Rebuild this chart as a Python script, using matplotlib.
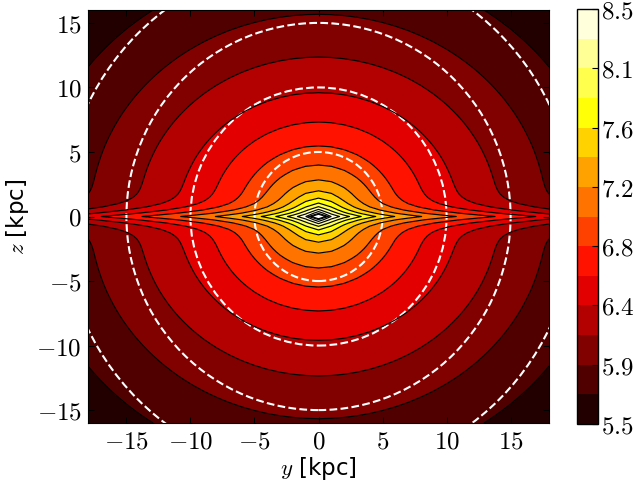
import matplotlib

matplotlib.use("Agg")
import matplotlib.pyplot as plt
import numpy as np
from matplotlib.patches import Circle
from matplotlib.ticker import FuncFormatter

plt.rcParams["mathtext.fontset"] = "cm"
plt.rcParams["font.family"] = ["DejaVu Sans"]

# model parameters (densities in Msun / kpc^3, lengths in kpc)
halo_rho0 = 5.92e6
halo_rs = 13.6
halo_q = 0.88
r_soft = 0.03
inner_disk_rho0 = 4.4e8
inner_disk_Rd = 1.25
inner_disk_zd = 0.28
outer_disk_rho0 = 4.3e7
outer_disk_Rd = 6.2
outer_disk_zd = 0.4

# sampling grid (1 kpc in y, 0.25 kpc in z)
n_y, n_z = 37, 129
y_lim = (-18.0, 18.0)
z_lim = (-16.0, 16.0)

# contour levels
fill_levels = np.linspace(5.5, 8.5, 15)
level_step = fill_levels[1] - fill_levels[0]
line_levels = fill_levels[0] + level_step * np.arange(0, 17)
cbar_ticks = fill_levels[::2]
circle_radii = [5, 10, 15, 20]
axis_ticks = [-15, -10, -5, 0, 5, 10, 15]


def log_density(y, z):
    R = np.abs(y)
    m = np.maximum(np.sqrt(R**2 + (z / halo_q) ** 2), r_soft)
    x = m / halo_rs
    halo = halo_rho0 / (x * (1 + x) ** 2)
    inner = inner_disk_rho0 * np.exp(-R / inner_disk_Rd - np.abs(z) / inner_disk_zd)
    outer = outer_disk_rho0 * np.exp(-R / outer_disk_Rd - np.abs(z) / outer_disk_zd)
    return np.log10(halo + inner + outer)


yy = np.linspace(y_lim[0], y_lim[1], n_y)
zz = np.linspace(z_lim[0], z_lim[1], n_z)
Y, Z = np.meshgrid(yy, zz)
logrho = log_density(Y, Z)

fig = plt.figure(figsize=(6.37, 4.84), dpi=100)
ax = fig.add_axes([88 / 637, 1 - 423 / 484, 461 / 637, 413 / 484])
cax = fig.add_axes([577 / 637, 1 - 424 / 484, 21 / 637, 415 / 484])

cf = ax.contourf(Y, Z, logrho, levels=fill_levels, cmap="hot")
ax.contour(Y, Z, logrho, levels=line_levels, colors="k", linewidths=0.85)

for r in circle_radii:
    ax.add_patch(Circle((0, 0), r, fill=False, ec="white", ls="--", lw=1.5))

ax.set_xlim(*y_lim)
ax.set_ylim(*z_lim)
ax.set_xticks(axis_ticks)
ax.set_yticks(axis_ticks)
ax.xaxis.set_major_formatter(FuncFormatter(lambda v, p: f"${v:g}$"))
ax.yaxis.set_major_formatter(FuncFormatter(lambda v, p: f"${v:g}$"))
ax.tick_params(direction="in", top=True, right=True, length=4, labelsize=18)
ax.tick_params(axis="x", pad=5)
ax.tick_params(axis="y", pad=4.5)
ax.set_xlabel("$y$ [kpc]", fontsize=16.5, labelpad=1)
ax.set_ylabel("$z$ [kpc]", fontsize=16.5, labelpad=4)

cb = fig.colorbar(cf, cax=cax, ticks=cbar_ticks)
cb.ax.yaxis.set_major_formatter(FuncFormatter(lambda v, p: f"${v:.1f}$"))
cb.ax.tick_params(direction="in", length=4, labelsize=18, pad=2.5)
cb.outline.set_linewidth(1.0)

fig.savefig("out.png", dpi=100)
